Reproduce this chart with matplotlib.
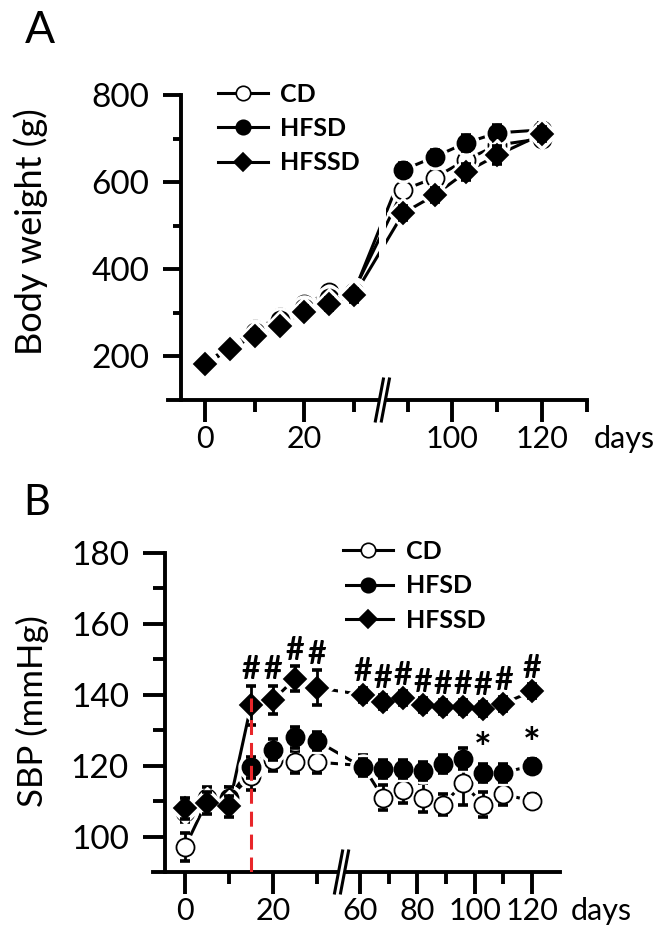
import numpy as np
import matplotlib
matplotlib.use("Agg")
import matplotlib.pyplot as plt
from matplotlib.lines import Line2D
from matplotlib.ticker import FixedLocator, NullFormatter

plt.rcParams['font.family'] = ['Lato', 'DejaVu Sans']

# %%
# Data
# panel A: body weight (g)
days_a = [0, 5, 10, 15, 20, 25, 30, 89, 96, 103, 110, 120]
cd_a = [185, 222, 262, 290, 320, 347, 352, 582, 610, 651, 685, 700]
hfsd_a = [185, 220, 255, 283, 312, 333, 348, 628, 658, 690, 713, 720]
hfssd_a = [182, 216, 248, 270, 303, 320, 340, 529, 570, 623, 662, 710]
cd_a_err = [10, 10, 12, 12, 12, 14, 14, 16, 16, 18, 20, 16]
hfsd_a_err = [10, 10, 12, 12, 12, 14, 14, 16, 16, 18, 18, 16]
hfssd_a_err = [10, 10, 12, 12, 12, 14, 14, 16, 16, 18, 20, 16]

# panel B: systolic blood pressure (mmHg)
days_b = [0, 5, 10, 15, 20, 25, 30, 61, 68, 75, 82, 89, 96, 103, 110, 120]
cd_b = [97, 110, 111, 117, 121.5, 121, 121, 120, 111, 113, 111, 109, 115, 109, 112, 110]
hfsd_b = [107, 111, 111, 119.5, 124.5, 128, 127, 119.5, 119, 119, 118.5, 120.5, 122, 118, 118, 120]
hfssd_b = [108, 109.5, 108.5, 137, 138.5, 144.5, 142, 140, 138, 139, 137, 136.5, 136.5, 136, 137.5, 141]
cd_b_err = [4, 3, 3, 4, 3, 3, 3, 3, 3.5, 3.5, 4, 3, 6, 3.5, 3, 2]
hfsd_b_err = [3, 3, 3, 3, 3, 3, 2.5, 2.5, 2.5, 2.5, 2.5, 2.5, 3, 2.5, 2.5, 2]
hfssd_b_err = [3, 3, 3, 5.5, 4, 3.5, 5, 2, 2, 2, 2, 2, 2, 2, 2, 2]

hash_days = [15, 20, 25, 30, 61, 68, 75, 82, 89, 96, 103, 110, 120]
star_days = [103, 120]
treat_day = 15

labels = ['CD', 'HFSD', 'HFSSD']
markers = ['o', 'o', 'D']
msizes = [13, 13, 11]
faces = ['white', 'black', 'black']

DPI = 100
W, H = 664, 943


def broken_axis(d_left, d_right, slope_l, slope_r, gap):
    # piecewise linear day -> axis unit mapping with a compressed break
    xs = np.array([d_left - 500, d_left, d_right, d_right + 500])
    us = np.array([slope_l * (d_left - 500), slope_l * d_left,
                   slope_l * d_left + gap, slope_l * d_left + gap + slope_r * 500])

    def fwd(d):
        return np.interp(d, xs, us)

    def inv(u):
        return np.interp(u, us, xs)
    return fwd, inv


def draw_panel(ax, days, series, errs, fwd, inv, brk, xlim, ylim,
               xmaj, xmin, ymaj, ymin, ylen, yminlen, yspine, days_off):
    ax.set_xscale('function', functions=(fwd, inv))
    ax.set_xlim(*xlim)
    ax.set_ylim(*ylim)
    for i, (vals, err) in enumerate(zip(series, errs)):
        ax.plot(days, vals, '-', color='black', lw=2.2, zorder=2)
        ax.plot(days, vals, markers[i], ms=msizes[i] + 5, color='white',
                ls='none', zorder=4 + 3 * i)
        ax.errorbar(days, vals, yerr=err, fmt='none', ecolor='black',
                    elinewidth=2.0, capsize=3.5, capthick=2.6, zorder=5 + 3 * i)
        ax.plot(days, vals, markers[i], ms=msizes[i], mfc=faces[i], mec='black',
                mew=1.3, ls='none', zorder=6 + 3 * i)

    for s in ['top', 'right']:
        ax.spines[s].set_visible(False)
    for s in ['left', 'bottom']:
        ax.spines[s].set_linewidth(2.8)
    ax.spines['left'].set_position(('axes', yspine))

    ax.xaxis.set_major_locator(FixedLocator(xmaj))
    ax.xaxis.set_minor_locator(FixedLocator(xmin))
    ax.xaxis.set_minor_formatter(NullFormatter())
    ax.yaxis.set_major_locator(FixedLocator(ymaj))
    ax.yaxis.set_minor_locator(FixedLocator(ymin))
    ax.yaxis.set_minor_formatter(NullFormatter())
    ax.tick_params(axis='x', which='major', length=16, width=2.8, pad=2, labelsize=22)
    ax.tick_params(axis='x', which='minor', length=8.6, width=2.8)
    ax.tick_params(axis='y', which='major', length=ylen, width=2.8, pad=10, labelsize=24)
    ax.tick_params(axis='y', which='minor', length=yminlen, width=2.8)

    # axis break: white gap plus two slanted strokes
    u0, u1 = fwd(np.array(xlim, dtype=float))
    ub0, ub1 = fwd(np.array(brk, dtype=float))
    fa = lambda u: (u - u0) / (u1 - u0)
    ax.axvspan(brk[0], brk[1], ymin=-0.03, ymax=1, color='white', lw=0,
               zorder=20, clip_on=False)
    pos = ax.get_position()
    axw = pos.width * W
    axh = pos.height * H
    for ub in (ub0 + 0.5, ub1 - 0.5):
        xc = fa(ub)
        dx = 4.0 / axw
        dy = 21.0 / axh
        ax.plot([xc - dx, xc + dx], [-dy, dy], color='black', lw=2.2,
                transform=ax.transAxes, clip_on=False, zorder=21)

    ax.annotate('days', xy=(1, 0), xycoords='axes fraction', xytext=(days_off, -18),
                textcoords='offset points', ha='left', va='top', fontsize=22)


def add_legend(ax, anchor):
    handles = [Line2D([], [], color='black', lw=2.2, marker=markers[i],
                      ms=msizes[i] * 0.8, mfc=faces[i], mec='black', mew=1.2)
               for i in range(3)]
    ax.legend(handles, labels, loc='upper left', bbox_to_anchor=anchor,
              frameon=False, borderpad=0, borderaxespad=0, handlelength=2.0,
              handletextpad=0.5, labelspacing=0.45,
              prop={'weight': 'bold', 'size': 18})


fig = plt.figure(figsize=(W / DPI, H / DPI), dpi=DPI)

# %%
# Panel A
fwd_a, inv_a = broken_axis(35.0, 85.1, 4.97, 4.47, 7.0)
ax_a = fig.add_axes([168 / W, 1 - 400 / H, (587 - 168) / W, (400 - 95) / H])
draw_panel(ax_a, days_a, [cd_a, hfsd_a, hfssd_a], [cd_a_err, hfsd_a_err, hfssd_a_err],
           fwd_a, inv_a, (35.0, 85.1), (-7.44, 130.1), (100, 800),
           [0, 20, 100, 120], [10, 30, 90, 110, 130],
           [200, 400, 600, 800], [300, 500, 700], 13, 6, 13 / 419, 5)
add_legend(ax_a, (0.119, 1.04))

# %%
# Panel B
fwd_b, inv_b = broken_axis(34.8, 54.8, 4.4, 2.867, 7.0)
ax_b = fig.add_axes([153 / W, 1 - 872 / H, (560 - 153) / W, (872 - 553) / H])
draw_panel(ax_b, days_b, [cd_b, hfsd_b, hfssd_b], [cd_b_err, hfsd_b_err, hfssd_b_err],
           fwd_b, inv_b, (34.8, 54.8), (-7.27, 129.8), (90, 180),
           [0, 20, 60, 80, 100, 120], [10, 30, 70, 90, 110, 130],
           [100, 120, 140, 160, 180], [110, 130, 150, 170], 16, 8.6, 12 / 407, 8)
add_legend(ax_b, (0.467, 1.04))

ax_b.vlines(treat_day, 90, 139, colors='#e8262a', linestyles=(0, (4.9, 2.6)),
            lw=2.2, zorder=30)

for d in hash_days:
    k = days_b.index(d)
    ax_b.text(d, hfssd_b[k] + hfssd_b_err[k] + 4.5, '#', ha='center', va='center',
              fontsize=23, fontweight='bold', zorder=31)
for d in star_days:
    k = days_b.index(d)
    ax_b.text(d, hfsd_b[k] + hfsd_b_err[k] + 3.5, '*', ha='center', va='center',
              fontsize=30, fontweight='bold', zorder=31)

# %%
# Panel letters and axis titles
fig.text(25 / W, 1 - 10 / H, 'A', ha='left', va='top', fontsize=32)
fig.text(23 / W, 1 - 484 / H, 'B', ha='left', va='top', fontsize=30)
fig.text(31 / W, 1 - 232 / H, 'Body weight (g)', rotation=90, ha='center',
         va='center', fontsize=26)
fig.text(32 / W, 1 - 711 / H, 'SBP (mmHg)', rotation=90, ha='center',
         va='center', fontsize=25)

fig.savefig('out.png', dpi=DPI)
